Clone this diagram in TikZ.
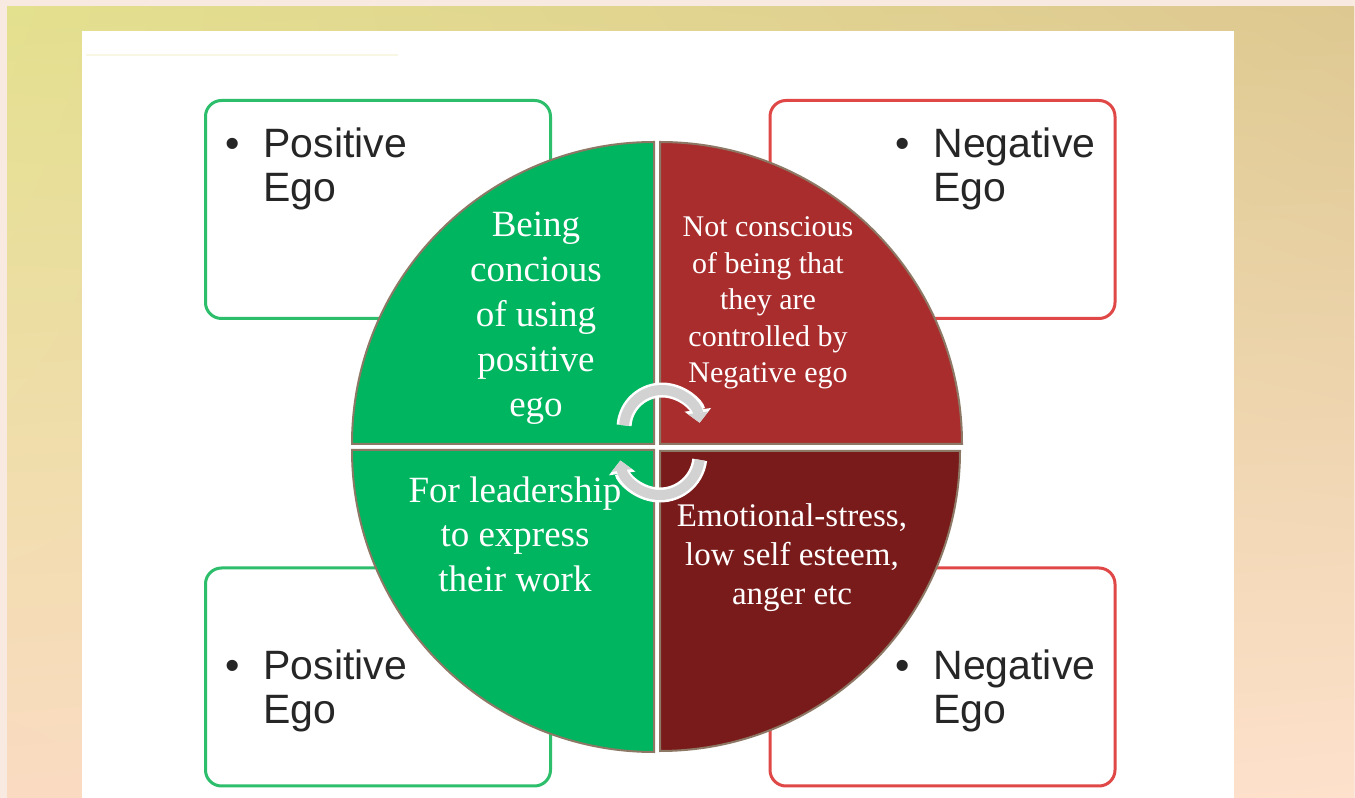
\documentclass[tikz,border=0pt]{standalone}
\usepackage{fontspec}
\setmainfont{Liberation Serif}
\newfontfamily\boxfont{Liberation Sans}
\usetikzlibrary{arrows.meta, shadings}

\definecolor{frameclr}{HTML}{F8EAE0}
\definecolor{bgA}{HTML}{E3E08E}
\definecolor{bgB}{HTML}{DEC891}
\definecolor{bgC}{HTML}{FADBC2}
\definecolor{bgD}{HTML}{FEE1CC}
\definecolor{posgreen}{HTML}{2DBE6C}
\definecolor{negred}{HTML}{E04848}
\definecolor{quadgreen}{HTML}{00B55F}
\definecolor{quadred}{HTML}{AA2D2D}
\definecolor{quaddark}{HTML}{7A1B1B}
\definecolor{quadedge}{HTML}{8C7864}
\definecolor{cyclegray}{HTML}{D2D2D2}
\definecolor{boxtext}{HTML}{262626}

\begin{document}
\begin{tikzpicture}[x=1pt,y=1pt]
	\tikzset{egobox/.style={draw, rounded corners=16pt, line width=3pt, minimum width=345pt, minimum height=218pt, inner sep=0pt},
		egotext/.style={anchor=base west, inner sep=0pt, text=boxtext, font=\boxfont\fontsize{41}{44}\selectfont},
		quad/.style={draw=quadedge, line width=2pt},
		qtext/.style={text=white, align=center, inner sep=0pt},
		cycleback/.style={white, line width=15pt, -{Triangle[length=13pt, width=26pt]}},
		cyclefront/.style={cyclegray, line width=10pt, -{Triangle[length=10pt, width=20pt]}}}

	% background and white sheet
	\fill[frameclr] (0,0) rectangle (1355,798);
	\shade[upper left=bgA, upper right=bgB, lower left=bgC, lower right=bgD] (7,0) rectangle (1354,791);
	\fill[white] (82,0) rectangle (1234,767);
	\draw[bgA!25, line width=2pt] (86,743) -- (398,743);

	% the four boxes
	\node[egobox, draw=posgreen] (posTop) at (378,588.5) {};
	\node[egobox, draw=negred] (negTop) at (942.5,588.5) {};
	\node[egobox, draw=posgreen] (posBot) at (378,121) {};
	\node[egobox, draw=negred] (negBot) at (942.5,121) {};

	\node[egotext] (posTopTxt) at (225,640) {\begin{tabular}[t]{@{}l@{\hspace{24pt}}l@{}}\textbullet & Positive\\ & Ego\end{tabular}};
	\node[egotext] (negTopTxt) at (895,640) {\begin{tabular}[t]{@{}l@{\hspace{24pt}}l@{}}\textbullet & Negative\\ & Ego\end{tabular}};
	\node[egotext] (posBotTxt) at (225,118) {\begin{tabular}[t]{@{}l@{\hspace{24pt}}l@{}}\textbullet & Positive\\ & Ego\end{tabular}};
	\node[egotext] (negBotTxt) at (895,118) {\begin{tabular}[t]{@{}l@{\hspace{24pt}}l@{}}\textbullet & Negative\\ & Ego\end{tabular}};

	% circle in four quarters
	\filldraw[quad, fill=quadgreen] (654,354) -- ++(180:302) arc[start angle=180, end angle=90, radius=302] -- cycle;
	\filldraw[quad, fill=quadred] (660,354) -- ++(90:302) arc[start angle=90, end angle=0, radius=302] -- cycle;
	\filldraw[quad, fill=quadgreen] (654,348) -- ++(270:302) arc[start angle=270, end angle=180, radius=302] -- cycle;
	\filldraw[quad, fill=quaddark] (660,347) -- ++(0:300) arc[start angle=0, end angle=-90, radius=300] -- cycle;

	\node[qtext, font=\fontsize{37}{45}\selectfont] (qUL) at (536,480) {Being\\concious\\of using\\positive\\ego};
	\node[qtext, font=\fontsize{30}{36.5}\selectfont] (qUR) at (768,495) {Not conscious\\of being that\\they are\\controlled by\\Negative ego};
	\node[qtext, font=\fontsize{37}{44.5}\selectfont] (qLL) at (515,264) {For leadership\\to express\\their work};
	\node[qtext, font=\fontsize{33}{39}\selectfont] (qLR) at (792,240) {Emotional-stress,\\low self esteem,\\anger etc};

	% cycle arrows
	\coordinate (cycTop) at (662,370);
	\coordinate (cycBot) at (660,343);
	\draw[cycleback] ([shift={(176:38)}]cycTop) arc[start angle=176, end angle=8, radius=38];
	\draw[cyclefront] ([shift={(176:38)}]cycTop) arc[start angle=176, end angle=8, radius=38];
	\draw[cycleback] ([shift={(-7:40)}]cycBot) arc[start angle=-7, end angle=-172, radius=40];
	\draw[cyclefront] ([shift={(-7:40)}]cycBot) arc[start angle=-7, end angle=-172, radius=40];
\end{tikzpicture}
\end{document}
